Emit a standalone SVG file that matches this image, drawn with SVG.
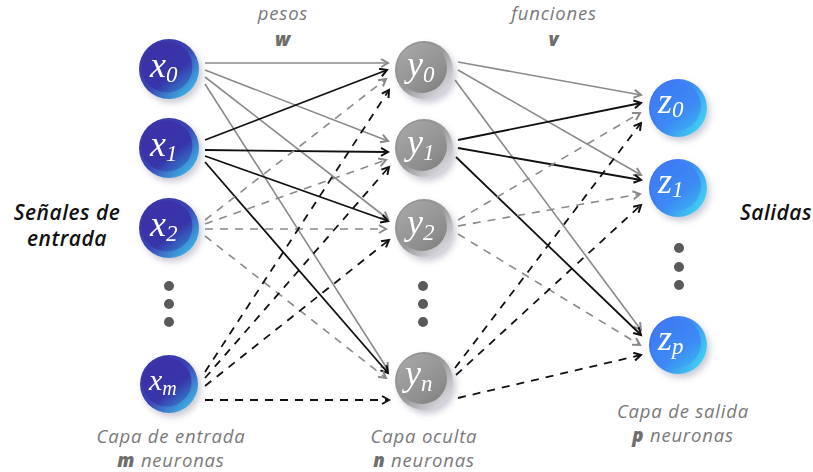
<svg xmlns="http://www.w3.org/2000/svg" width="813" height="472" viewBox="0 0 813 472">
  <defs>
    <!-- input layer: indigo with cyan rim -->
    <linearGradient id="inRim" x1="0" y1="0" x2="1" y2="1">
      <stop offset="0" stop-color="#3a33a6"/>
      <stop offset="0.5" stop-color="#3b44b4"/>
      <stop offset="1" stop-color="#3fd6f4"/>
    </linearGradient>
    <linearGradient id="inCore" x1="0.2" y1="0.1" x2="0.9" y2="1">
      <stop offset="0" stop-color="#3c30a6"/>
      <stop offset="0.6" stop-color="#3836aa"/>
      <stop offset="1" stop-color="#2f8ad2"/>
    </linearGradient>
    <!-- hidden layer: grey with pale rim -->
    <linearGradient id="hidRim" x1="0" y1="0" x2="1" y2="1">
      <stop offset="0" stop-color="#8c8c8c"/>
      <stop offset="0.5" stop-color="#9a9a9a"/>
      <stop offset="1" stop-color="#f1eef6"/>
    </linearGradient>
    <linearGradient id="hidCore" x1="0.2" y1="0.1" x2="0.9" y2="1">
      <stop offset="0" stop-color="#a4a4a4"/>
      <stop offset="0.7" stop-color="#8e8e8e"/>
      <stop offset="1" stop-color="#7e7e80"/>
    </linearGradient>
    <!-- output layer: bright blue with cyan rim -->
    <linearGradient id="outRim" x1="0" y1="0.2" x2="1" y2="0.8">
      <stop offset="0" stop-color="#3f6cf0"/>
      <stop offset="0.5" stop-color="#3d8cf2"/>
      <stop offset="1" stop-color="#41d8f2"/>
    </linearGradient>
    <linearGradient id="outCore" x1="0.2" y1="0.1" x2="0.9" y2="1">
      <stop offset="0" stop-color="#3f7af4"/>
      <stop offset="0.6" stop-color="#3c8af4"/>
      <stop offset="1" stop-color="#3bb6f2"/>
    </linearGradient>
    <filter id="shadow" x="-30%" y="-30%" width="160%" height="160%">
      <feDropShadow dx="3" dy="4" stdDeviation="3" flood-color="#6a6a8a" flood-opacity="0.35"/>
    </filter>
    <marker id="ahGrey" markerUnits="userSpaceOnUse" markerWidth="12" markerHeight="12" refX="9" refY="5" orient="auto">
      <path d="M2,1 L9,5 L2,9" fill="none" stroke="#8a8a8a" stroke-width="2"/>
    </marker>
    <marker id="ahBlack" markerUnits="userSpaceOnUse" markerWidth="12" markerHeight="12" refX="9" refY="5" orient="auto">
      <path d="M2,1 L9,5 L2,9" fill="none" stroke="#111" stroke-width="2"/>
    </marker>
  </defs>
  <style>
    .g  { stroke:#8a8a8a; stroke-width:1.6; fill:none; marker-end:url(#ahGrey); }
    .k  { stroke:#111; stroke-width:1.8; fill:none; marker-end:url(#ahBlack); }
    .gd { stroke:#8a8a8a; stroke-width:1.6; fill:none; stroke-dasharray:8 7; marker-end:url(#ahGrey); }
    .kd { stroke:#111; stroke-width:1.8; fill:none; stroke-dasharray:8 7; marker-end:url(#ahBlack); }
    .sym { font-family:"Liberation Serif","DejaVu Serif",serif; font-style:italic; fill:#fff; font-size:36px; }
    .sub { font-size:23px; }
    .side { font-family:"Open Sans","Noto Sans",sans-serif; font-style:italic; font-weight:600; font-size:21px; fill:#111; letter-spacing:0.5px; }
    .cap { font-family:"Open Sans","Noto Sans",sans-serif; font-style:italic; font-size:18.5px; fill:#7a7a7a; letter-spacing:0.8px; }
    .capb { font-weight:800; fill:#6e6e6e; }
    .dot { fill:#5a5a5a; }
  </style>

  <rect width="813" height="472" fill="#fff"/>

  <!-- connectors -->
  <g id="connectors">
    <!-- x0 (grey solid) -->
    <line class="g" x1="205" y1="63" x2="388" y2="63"/>
    <line class="g" x1="205" y1="70" x2="388" y2="141"/>
    <line class="g" x1="205" y1="77" x2="388" y2="219"/>
    <line class="g" x1="205" y1="84" x2="388" y2="370"/>
    <!-- x1 (black solid) -->
    <line class="k" x1="205" y1="140" x2="387" y2="70"/>
    <line class="k" x1="205" y1="150" x2="388" y2="152"/>
    <line class="k" x1="205" y1="156" x2="388" y2="221"/>
    <line class="k" x1="205" y1="162" x2="388" y2="373"/>
    <!-- x2 (grey dashed) -->
    <line class="gd" x1="205" y1="220" x2="386" y2="79"/>
    <line class="gd" x1="205" y1="224" x2="386" y2="160"/>
    <line class="gd" x1="205" y1="229" x2="386" y2="229"/>
    <line class="gd" x1="205" y1="236" x2="386" y2="378"/>
    <!-- xm (black dashed) -->
    <line class="kd" x1="205" y1="372" x2="389" y2="90"/>
    <line class="kd" x1="205" y1="378" x2="389" y2="167"/>
    <line class="kd" x1="205" y1="386" x2="389" y2="240"/>
    <line class="kd" x1="205" y1="400" x2="389" y2="400"/>
    <!-- y0 (grey solid) -->
    <line class="g" x1="458" y1="62" x2="641" y2="95"/>
    <line class="g" x1="458" y1="70" x2="641" y2="175"/>
    <line class="g" x1="455" y1="80" x2="641" y2="330"/>
    <!-- y1 (black solid) -->
    <line class="k" x1="458" y1="140" x2="641" y2="103"/>
    <line class="k" x1="458" y1="148" x2="641" y2="180"/>
    <line class="k" x1="456" y1="157" x2="641" y2="335"/>
    <!-- y2 (grey dashed) -->
    <line class="gd" x1="458" y1="220" x2="640" y2="113"/>
    <line class="gd" x1="458" y1="226" x2="640" y2="194"/>
    <line class="gd" x1="458" y1="234" x2="640" y2="345"/>
    <!-- yn (black dashed) -->
    <line class="kd" x1="455" y1="368" x2="641" y2="123"/>
    <line class="kd" x1="456" y1="375" x2="641" y2="205"/>
    <line class="kd" x1="458" y1="398" x2="641" y2="355"/>
  </g>

  <!-- input layer -->
  <g id="x0" filter="url(#shadow)">
    <circle cx="169" cy="69" r="30" fill="url(#inRim)"/>
    <circle cx="167" cy="67" r="25.5" fill="url(#inCore)"/>
    <text class="sym" x="150" y="77">x<tspan class="sub" dy="5">0</tspan></text>
  </g>
  <g id="x1" filter="url(#shadow)">
    <circle cx="169" cy="148" r="30" fill="url(#inRim)"/>
    <circle cx="167" cy="146" r="25.5" fill="url(#inCore)"/>
    <text class="sym" x="150" y="156">x<tspan class="sub" dy="5">1</tspan></text>
  </g>
  <g id="x2" filter="url(#shadow)">
    <circle cx="169" cy="228" r="30" fill="url(#inRim)"/>
    <circle cx="167" cy="226" r="25.5" fill="url(#inCore)"/>
    <text class="sym" x="150" y="236">x<tspan class="sub" dy="5">2</tspan></text>
  </g>
  <g id="xm" filter="url(#shadow)">
    <circle cx="169" cy="384" r="29" fill="url(#inRim)"/>
    <circle cx="167" cy="382" r="24.5" fill="url(#inCore)"/>
    <text class="sym" x="149" y="390" style="font-size:30px">x<tspan class="sub" dy="5" style="font-size:20px">m</tspan></text>
  </g>
  <g id="input-dots">
    <circle class="dot" cx="169" cy="286" r="5"/>
    <circle class="dot" cx="169" cy="304" r="5"/>
    <circle class="dot" cx="169" cy="322" r="5"/>
  </g>

  <!-- hidden layer -->
  <g id="y0" filter="url(#shadow)">
    <circle cx="424" cy="70" r="29" fill="url(#hidRim)"/>
    <circle cx="422" cy="68" r="25" fill="url(#hidCore)"/>
    <text class="sym" x="407" y="76">y<tspan class="sub" dy="6">0</tspan></text>
  </g>
  <g id="y1" filter="url(#shadow)">
    <circle cx="424" cy="148" r="29" fill="url(#hidRim)"/>
    <circle cx="422" cy="146" r="25" fill="url(#hidCore)"/>
    <text class="sym" x="407" y="154">y<tspan class="sub" dy="6">1</tspan></text>
  </g>
  <g id="y2" filter="url(#shadow)">
    <circle cx="424" cy="228" r="29" fill="url(#hidRim)"/>
    <circle cx="422" cy="226" r="25" fill="url(#hidCore)"/>
    <text class="sym" x="407" y="234">y<tspan class="sub" dy="6">2</tspan></text>
  </g>
  <g id="yn" filter="url(#shadow)">
    <circle cx="424" cy="381" r="29" fill="url(#hidRim)"/>
    <circle cx="422" cy="379" r="25" fill="url(#hidCore)"/>
    <text class="sym" x="405" y="385">y<tspan class="sub" dy="6">n</tspan></text>
  </g>
  <g id="hidden-dots">
    <circle class="dot" cx="423" cy="286" r="5"/>
    <circle class="dot" cx="423" cy="304" r="5"/>
    <circle class="dot" cx="423" cy="322" r="5"/>
  </g>

  <!-- output layer -->
  <g id="z0" filter="url(#shadow)">
    <circle cx="678" cy="108" r="29" fill="url(#outRim)"/>
    <circle cx="676" cy="106" r="25" fill="url(#outCore)"/>
    <text class="sym" x="658" y="113">z<tspan class="sub" dy="4">0</tspan></text>
  </g>
  <g id="z1" filter="url(#shadow)">
    <circle cx="678" cy="188" r="29" fill="url(#outRim)"/>
    <circle cx="676" cy="186" r="25" fill="url(#outCore)"/>
    <text class="sym" x="658" y="193">z<tspan class="sub" dy="4">1</tspan></text>
  </g>
  <g id="zp" filter="url(#shadow)">
    <circle cx="678" cy="345" r="29" fill="url(#outRim)"/>
    <circle cx="676" cy="343" r="25" fill="url(#outCore)"/>
    <text class="sym" x="658" y="350">z<tspan class="sub" dy="4">p</tspan></text>
  </g>
  <g id="output-dots">
    <circle class="dot" cx="679" cy="248" r="5"/>
    <circle class="dot" cx="679" cy="267" r="5"/>
    <circle class="dot" cx="679" cy="285" r="5"/>
  </g>

  <!-- labels -->
  <g id="labels">
    <text class="cap" x="283" y="20" text-anchor="middle">pesos</text>
    <text class="cap capb" x="283" y="46" text-anchor="middle">w</text>
    <text class="cap" x="554" y="20" text-anchor="middle">funciones</text>
    <text class="cap capb" x="554" y="46" text-anchor="middle">v</text>
    <text class="side" x="67" y="220" text-anchor="middle">Señales de</text>
    <text class="side" x="67" y="246" text-anchor="middle">entrada</text>
    <text class="side" x="776" y="220" text-anchor="middle">Salidas</text>
    <text class="cap" x="171" y="443" text-anchor="middle">Capa de entrada</text>
    <text class="cap" x="171" y="467" text-anchor="middle"><tspan class="capb">m</tspan> neuronas</text>
    <text class="cap" x="424" y="443" text-anchor="middle">Capa oculta</text>
    <text class="cap" x="424" y="467" text-anchor="middle"><tspan class="capb">n</tspan> neuronas</text>
    <text class="cap" x="683" y="418" text-anchor="middle">Capa de salida</text>
    <text class="cap" x="683" y="442" text-anchor="middle"><tspan class="capb">p</tspan> neuronas</text>
  </g>
</svg>
